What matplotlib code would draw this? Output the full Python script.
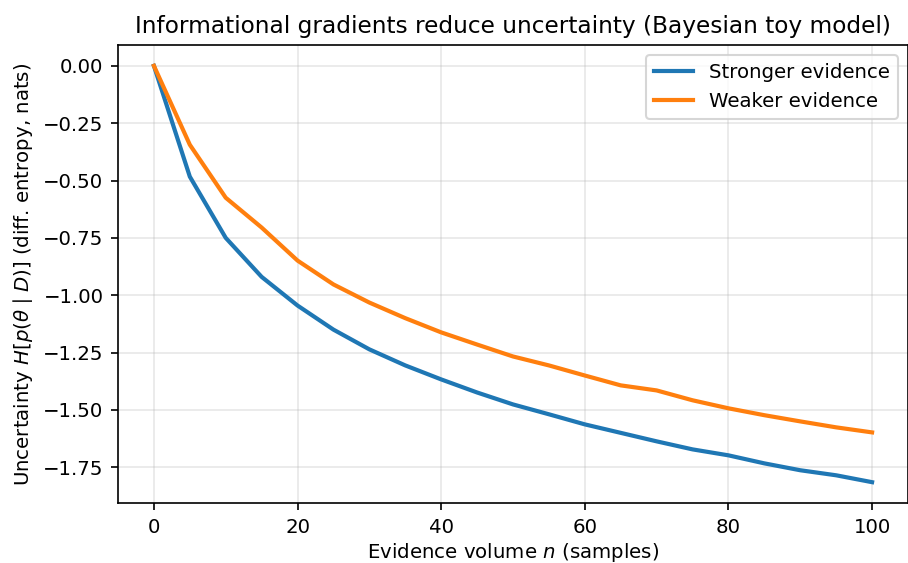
import matplotlib
matplotlib.use("Agg")
import matplotlib.pyplot as plt

n = [0, 5, 10, 15, 20, 25, 30, 35, 40, 45, 50, 55, 60, 65, 70, 75, 80, 85, 90, 95, 100]
stronger = [0.0, -0.483, -0.75, -0.92, -1.045, -1.15, -1.236, -1.306, -1.367, -1.424, -1.476,
            -1.519, -1.563, -1.60, -1.637, -1.672, -1.698, -1.733, -1.763, -1.785, -1.815]
weaker = [0.0, -0.344, -0.575, -0.705, -0.849, -0.953, -1.032, -1.10, -1.162, -1.215, -1.267,
          -1.306, -1.35, -1.393, -1.415, -1.458, -1.493, -1.523, -1.55, -1.576, -1.598]

plt.rcParams['font.size'] = 9.5

fig, ax = plt.subplots(figsize=(9.09 / 1.5, 5.63 / 1.5), dpi=150)
ax.plot(n, stronger, color="#1f77b4", lw=2, label="Stronger evidence")
ax.plot(n, weaker, color="#ff7f0e", lw=2, label="Weaker evidence")
ax.grid(True, alpha=0.3)
ax.set_xlabel(r"Evidence volume $n$ (samples)", labelpad=2)
ax.set_ylabel(r"Uncertainty $H[p(\theta\mid D)]$ (diff. entropy, nats)")
ax.set_title("Informational gradients reduce uncertainty (Bayesian toy model)", fontsize=11.2)
ax.legend(loc="upper right")
fig.subplots_adjust(left=118 / 909, right=908 / 909, top=1 - 45 / 563, bottom=1 - 503 / 563)
fig.savefig("out.png", dpi=150)
